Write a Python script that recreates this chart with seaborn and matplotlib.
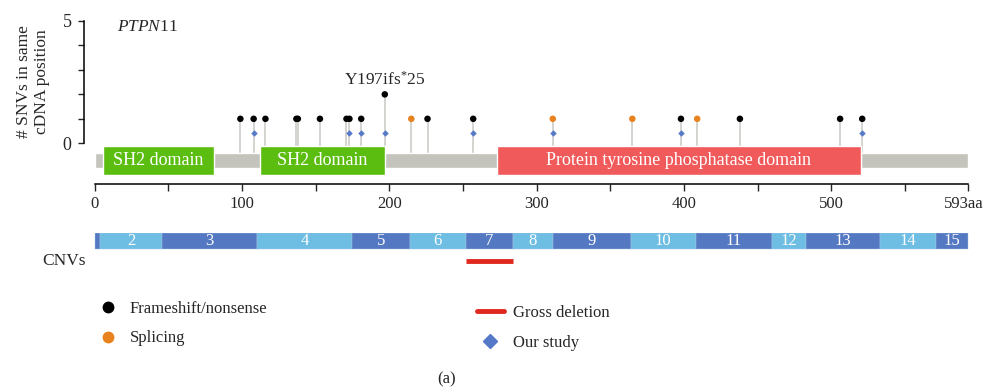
import matplotlib
matplotlib.use("Agg")
import matplotlib.pyplot as plt
import matplotlib.transforms as mtransforms
from matplotlib.lines import Line2D
import seaborn as sns
import pandas as pd

# --- data (positions in aa) ---
protein_len = 593
frameshift_pos = [99, 108, 116, 137, 138, 153, 171, 173, 181, 197, 226, 257, 398, 438, 506, 521]
frameshift_cnt = [1, 1, 1, 1, 1, 1, 1, 1, 1, 2, 1, 1, 1, 1, 1, 1]
splicing_pos = [215, 311, 365, 409]
splicing_cnt = [1, 1, 1, 1]
our_study_pos = [108, 173, 181, 197, 257, 311, 398, 521]
our_study_level = 0.43

domain_names = ["SH2 domain", "SH2 domain", "Protein tyrosine phosphatase domain"]
domain_start = [6, 112, 273]
domain_end = [81, 197, 520]
domain_colors = ["#5BBD10", "#5BBD10", "#F05A5B"]

exon_labels = ["", "2", "3", "4", "5", "6", "7", "8", "9", "10", "11", "12", "13", "14", "15"]
exon_bounds = [0, 4, 46, 110, 175, 214, 252, 284, 311, 364, 408, 460, 483, 533, 571, 593]
gross_deletion = (252, 284)

x_ticks = [0, 50, 100, 150, 200, 250, 300, 350, 400, 450, 500, 550, 593]
x_ticklabels = ["0", "", "100", "", "200", "", "300", "", "400", "", "500", "", "593aa"]

sns.set_style("white")
plt.rcParams["font.family"] = ["Liberation Serif", "DejaVu Serif"]
plt.rcParams["mathtext.fontset"] = "custom"
plt.rcParams["mathtext.rm"] = "Liberation Serif"
plt.rcParams["mathtext.it"] = "Liberation Serif:italic"
plt.rcParams["font.size"] = 12

W, H = 990, 389
fig = plt.figure(figsize=(W / 100, H / 100), dpi=100)


def px_axes(left, top, right, bottom):
    return fig.add_axes([left / W, 1 - bottom / H, (right - left) / W, (bottom - top) / H])


# shared x mapping: 0 aa -> 94.5 px, 593 aa -> 968.3 px
scale = (968.3 - 94.5) / protein_len
xlim = ((84 - 94.5) / scale, (980 - 94.5) / scale)

# --- lollipop panel ---
ax1 = px_axes(84, 15, 980, 178)
ax1.set_xlim(*xlim)
ax1.set_ylim(-1.42, 5.245)

df_fs = pd.DataFrame({"pos": frameshift_pos, "count": frameshift_cnt, "type": "Frameshift/nonsense"})
df_sp = pd.DataFrame({"pos": splicing_pos, "count": splicing_cnt, "type": "Splicing"})
df = pd.concat([df_fs, df_sp], ignore_index=True)

ax1.vlines(df["pos"], -0.7, df["count"], color="#C8C8C2", lw=1.1, zorder=1)
ax1.barh(-0.705, protein_len, left=0, height=0.61, color="#C4C4BC", zorder=2)
for name, s, e, c in zip(domain_names, domain_start, domain_end, domain_colors):
    ax1.barh(-0.705, e - s, left=s, height=1.19, color=c, zorder=3)
    ax1.text((s + e) / 2, -0.705, name, color="white", ha="center", va="center",
             fontsize=13, zorder=4)

sns.scatterplot(data=df, x="pos", y="count", hue="type",
                palette={"Frameshift/nonsense": "black", "Splicing": "#E8821E"},
                s=22, linewidth=0, legend=False, ax=ax1, zorder=5)
sns.scatterplot(x=our_study_pos, y=[our_study_level] * len(our_study_pos), marker="D",
                color="#5578C8", s=11, linewidth=0, ax=ax1, zorder=5)

ax1.annotate("Y197ifs$^{*}$25", xy=(197, 2), xytext=(0, 7), textcoords="offset points",
             ha="center", va="baseline", fontsize=12.5)
ax1.text(15, 4.75, "$\\mathit{PTPN}$11", ha="left", va="center", fontsize=12.5)

for sp in ["top", "right", "bottom"]:
    ax1.spines[sp].set_visible(False)
ax1.spines["left"].set_bounds(0, 5)
ax1.spines["left"].set_color("black")
ax1.spines["left"].set_linewidth(1.1)
ax1.set_yticks([0, 1, 2, 3, 4, 5])
ax1.set_yticklabels(["0", "", "", "", "", "5"])
ax1.tick_params(axis="y", direction="out", length=4, width=1, pad=5, labelsize=13, left=True)
ax1.set_xticks([])
ax1.set_xlabel("")
ax1.set_ylabel("")

fig.text(33 / W, 1 - 82 / H, "# SNVs in same\ncDNA position", rotation=90,
         ha="center", va="center", multialignment="center", fontsize=12.5, linespacing=1.15)

# --- amino-acid axis ---
ax2 = px_axes(84, 183, 980, 184)
ax2.set_xlim(*xlim)
for sp in ["top", "right", "left"]:
    ax2.spines[sp].set_visible(False)
ax2.spines["bottom"].set_bounds(0, protein_len)
ax2.spines["bottom"].set_color("black")
ax2.spines["bottom"].set_linewidth(1.1)
ax2.set_yticks([])
ax2.set_xticks(x_ticks)
ax2.set_xticklabels(x_ticklabels)
ax2.tick_params(axis="x", direction="out", length=5, width=1, pad=4, labelsize=12, bottom=True)
last = ax2.get_xticklabels()[-1]
last.set_transform(last.get_transform() + mtransforms.ScaledTranslation(-5 / 100, 0, fig.dpi_scale_trans))

# --- exon bar + CNV ---
ax3 = px_axes(84, 233, 980, 273)
ax3.set_xlim(*xlim)
ax3.set_ylim(-1.5, 1)
ax3.axis("off")
for i, lab in enumerate(exon_labels):
    s, e = exon_bounds[i], exon_bounds[i + 1]
    c = "#5479C2" if i % 2 == 0 else "#6EBDE3"
    ax3.barh(0.5, e - s, left=s, height=1, color=c, edgecolor="#A9C7E6", linewidth=0.3)
    if lab:
        ax3.text((s + e) / 2, 0.47, lab, color="white", ha="center", va="center", fontsize=12)
ax3.hlines(-0.75, gross_deletion[0], gross_deletion[1], color="#E0281E", lw=3.5)
fig.text(42 / W, 1 - 261 / H, "CNVs", ha="left", va="center", fontsize=12.5)

# --- legends ---
h_left = [
    Line2D([], [], marker="o", ls="none", color="black", markersize=7.5),
    Line2D([], [], marker="o", ls="none", color="#E8821E", markersize=7.5),
]
fig.legend(h_left, ["Frameshift/nonsense", "Splicing"], loc="upper left",
           bbox_to_anchor=(100 / W, 1 - 301 / H), frameon=False, fontsize=12,
           handlelength=1.0, handletextpad=0.8, labelspacing=0.8,
           borderpad=0, borderaxespad=0)
h_right = [
    Line2D([], [], color="#E0281E", lw=3.5),
    Line2D([], [], marker="D", ls="none", color="#5578C8", markersize=7.5),
]
fig.legend(h_right, ["Gross deletion", "Our study"], loc="upper left",
           bbox_to_anchor=(477 / W, 1 - 305 / H), frameon=False, fontsize=12,
           handlelength=1.6, handletextpad=0.55, labelspacing=0.85,
           borderpad=0, borderaxespad=0)

fig.text(447 / W, 1 - 379 / H, "(a)", ha="center", va="center", fontsize=12)

fig.savefig("out.png", dpi=100)
